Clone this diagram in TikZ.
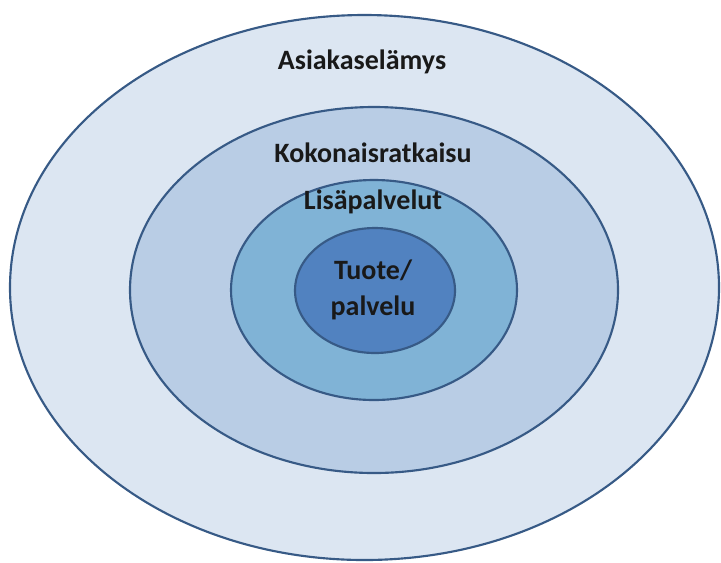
\documentclass[tikz,border=0pt]{standalone}
\usepackage{fontspec}
\setmainfont{Carlito}
\usetikzlibrary{shapes.geometric}
\definecolor{ringline}{HTML}{375A86}
\definecolor{ringa}{HTML}{DCE6F2}
\definecolor{ringb}{HTML}{B9CDE5}
\definecolor{ringc}{HTML}{80B3D6}
\definecolor{ringd}{HTML}{5182C0}

\begin{document}
\begin{tikzpicture}[x=0.75pt, y=-0.75pt,
  ring/.style={ellipse, draw=ringline, line width=1.6pt, inner sep=0pt},
  lbl/.style={font=\bfseries\fontsize{21}{27}\selectfont, text=black!90, align=center}]
  \useasboundingbox (0,0) rectangle (721,562);
  \node[ring, fill=ringa, minimum width=531.75pt, minimum height=408.75pt] (experience) at (364.5,287.5) {};
  \node[ring, fill=ringb, minimum width=366pt, minimum height=274.5pt] (solution) at (374,290) {};
  \node[ring, fill=ringc, minimum width=214.5pt, minimum height=165pt] (extras) at (374,290) {};
  \node[ring, fill=ringd, minimum width=120pt, minimum height=93.75pt] (product) at (375,290.5) {};
  \node[lbl] (experiencelbl) at (362,62) {Asiakaselämys};
  \node[lbl] (solutionlbl) at (373,153) {Kokonaisratkaisu};
  \node[lbl] (extraslbl) at (373,202) {Lisäpalvelut};
  \node[lbl] (productlbl) at (373,290) {Tuote/\\palvelu};
\end{tikzpicture}
\end{document}
